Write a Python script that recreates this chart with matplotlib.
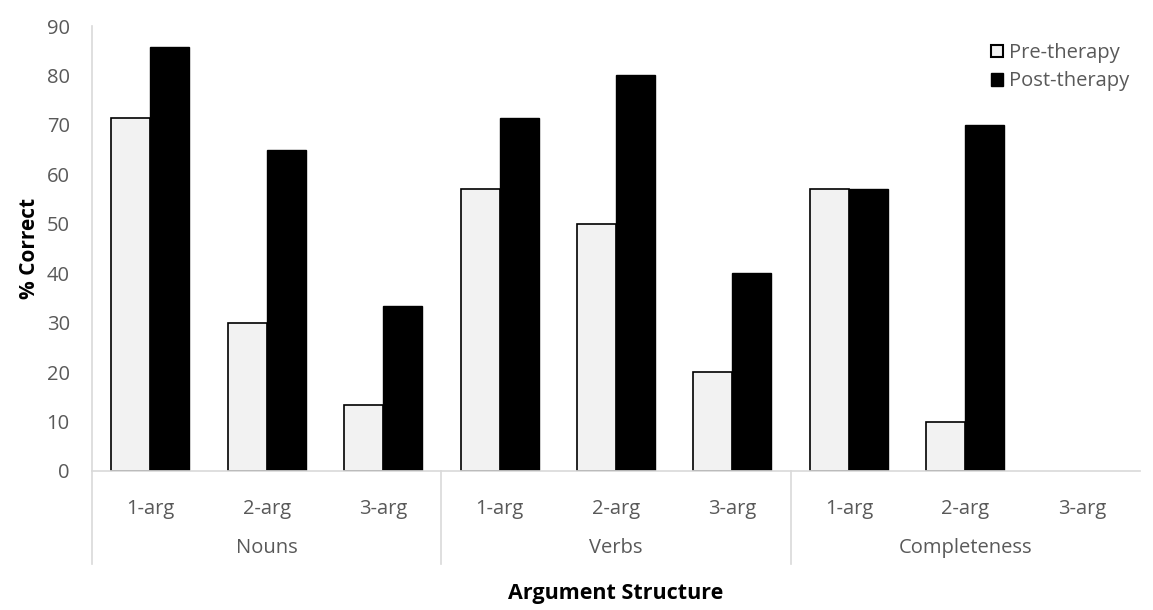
import numpy as np
import matplotlib.pyplot as plt
from matplotlib.patches import Patch
from matplotlib.transforms import blended_transform_factory

plt.rcParams['font.family'] = ['Open Sans', 'DejaVu Sans']

groups = ["Nouns", "Verbs", "Completeness"]
sub_labels = ["1-arg", "2-arg", "3-arg"]
# Completeness 3-arg has no bars
pre_therapy = [71.4, 30.0, 13.3, 57.1, 50.0, 20.0, 57.1, 10.0, np.nan]
post_therapy = [85.7, 65.0, 33.3, 71.4, 80.0, 40.0, 57.1, 70.0, np.nan]
yticks = [0, 10, 20, 30, 40, 50, 60, 70, 80, 90]

text_col = "#595959"
line_col = "#d9d9d9"
fs = 14.5

fig = plt.figure(figsize=(11.53, 6.10), dpi=100)
ax = fig.add_axes([92 / 1153, 1 - 471 / 610, 1048 / 1153, 445 / 610])

n = len(pre_therapy)
x = np.arange(n)
w = 0.335
ax.bar(x - w / 2, pre_therapy, w, color="#f2f2f2", edgecolor="black", linewidth=1.2, zorder=2)
ax.bar(x + w / 2, post_therapy, w, color="black", edgecolor="black", linewidth=1.0, zorder=2)

ax.set_xlim(-0.5, n - 0.5)
ax.set_ylim(0, 90)
ax.set_yticks(yticks)
ax.tick_params(axis="y", length=0, labelsize=fs, labelcolor=text_col, pad=16)
ax.set_xticks(x)
ax.set_xticklabels(sub_labels * len(groups))
ax.tick_params(axis="x", length=0, labelsize=fs, labelcolor=text_col, pad=20)

for s in ["top", "right"]:
    ax.spines[s].set_visible(False)
ax.spines["left"].set_color(line_col)
ax.spines["bottom"].set_color(line_col)
ax.spines["left"].set_linewidth(1.2)
ax.spines["bottom"].set_linewidth(1.2)
ax.spines["bottom"].set_zorder(3)

# multi-level category axis: group labels and dividers
trans = blended_transform_factory(ax.transData, fig.transFigure)
y_axis_fig = 1 - 471 / 610
y_bottom_fig = 1 - 564 / 610
for i in range(len(groups)):
    xb = i * 3 - 0.5
    ax.plot([xb, xb], [y_axis_fig, y_bottom_fig], transform=trans, color=line_col,
            linewidth=1.2, clip_on=False)
for i, g in enumerate(groups):
    ax.text(i * 3 + 1, 1 - 548 / 610, g, transform=trans, ha="center", va="center",
            fontsize=fs, color=text_col)

ax.set_ylabel("% Correct", fontsize=15, fontweight="bold", color="black", labelpad=5)
fig.text(0.5 * (92 + 1140) / 1153, 1 - 593 / 610, "Argument Structure", ha="center", va="center",
         fontsize=15.5, fontweight="bold", color="black")

handles = [Patch(facecolor="#f2f2f2", edgecolor="black", linewidth=1.5, label="Pre-therapy"),
           Patch(facecolor="black", edgecolor="black", label="Post-therapy")]
leg = fig.legend(handles=handles, loc="upper left", bbox_to_anchor=(991 / 1153, 1 - 43 / 610),
                 frameon=False, fontsize=fs, handlelength=0.6, handleheight=0.6,
                 handletextpad=0.3, labelspacing=0.42, borderaxespad=0.0, borderpad=0.0)
for t in leg.get_texts():
    t.set_color(text_col)

fig.savefig("out.png", dpi=100)
